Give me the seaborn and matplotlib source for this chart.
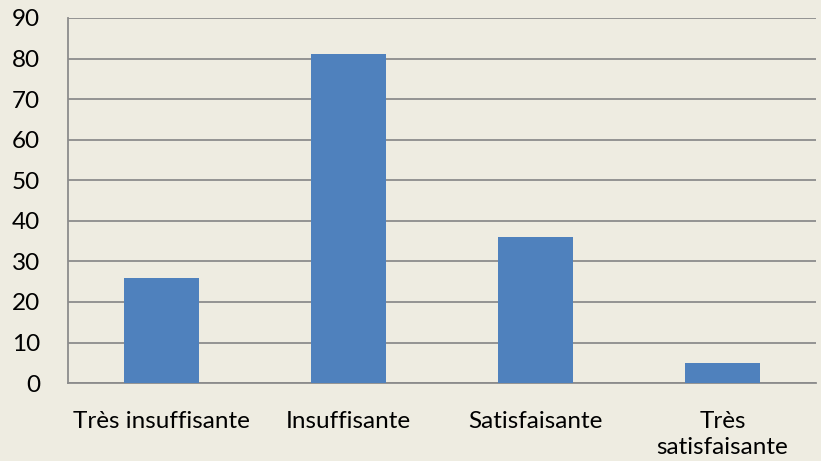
import matplotlib
matplotlib.use("Agg")
import matplotlib.pyplot as plt
import seaborn as sns
import pandas as pd

# data
categories = ["Très insuffisante", "Insuffisante", "Satisfaisante", "Très\nsatisfaisante"]
values = [26, 81, 36, 5]
y_ticks = [0, 10, 20, 30, 40, 50, 60, 70, 80, 90]

bg = "#EEECE1"
grid_col = "#8C8C8C"

sns.set_theme(style="white")
plt.rcParams["font.family"] = ["Lato", "DejaVu Sans"]

df = pd.DataFrame({"cat": categories, "val": values})

fig = plt.figure(figsize=(8.21, 4.61), dpi=100, facecolor=bg)
ax = fig.add_axes([0.0828, 0.169, 0.911, 0.792])
ax.set_facecolor(bg)

sns.barplot(data=df, x="cat", y="val", color="#4F81BD", saturation=1,
            width=0.4, linewidth=0, ax=ax, zorder=3)

ax.set_ylim(0, 90)
ax.set_yticks(y_ticks)
ax.set_xlim(-0.5, len(categories) - 0.5)
ax.grid(axis="y", color=grid_col, linewidth=1.3, zorder=0)
ax.grid(axis="x", visible=False)
ax.set_axisbelow(True)

for side in ["top", "right"]:
    ax.spines[side].set_visible(False)
for side in ["left", "bottom"]:
    ax.spines[side].set_color(grid_col)
    ax.spines[side].set_linewidth(1.3)

ax.tick_params(axis="both", length=0, labelsize=17.5, colors="black")
ax.tick_params(axis="x", pad=20)
ax.tick_params(axis="y", pad=20)
for lab in ax.get_xticklabels():
    lab.set_linespacing(1.3)
ax.set_xlabel("")
ax.set_ylabel("")

fig.savefig("out.png", dpi=100, facecolor=bg)
